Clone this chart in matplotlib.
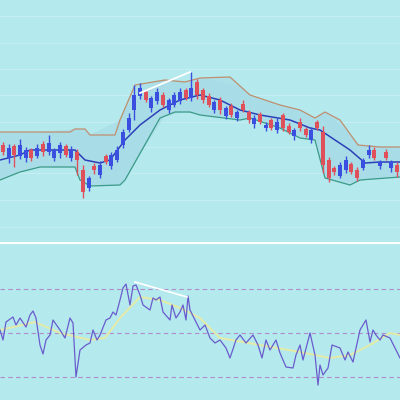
import matplotlib
matplotlib.use("Agg")
import matplotlib.pyplot as plt
import numpy as np

# price panel (values in chart units, smaller = higher on screen)
closes = [152,148,155,145,150,158,148,152,143,150,145,155,150,160,192,178,170,165,162,155,
          150,132,118,95,88,100,98,92,105,100,95,92,98,88,95,100,105,102,110,108,
          115,112,110,120,118,122,125,128,122,128,132,130,128,135,130,128,165,178,172,165,
          160,172,178,160,150,158,162,158,162,172]
opens = [145,158,146,156,158,150,156,144,152,158,153,146,158,152,170,188,166,175,156,166,
         160,145,130,110,96,92,108,101,95,110,105,101,90,98,82,90,96,110,100,116,
         106,118,104,112,124,114,128,120,130,115,126,136,122,129,140,122,132,160,168,176,
         170,164,170,168,155,150,166,152,168,165]
wick_up = [3,4,2,6,3,2,4,3,8,2,3,2,4,3,5,2,3,4,2,3,4,3,5,10,5,3,2,4,3,2,3,4,2,16,3,2,3,2,3,2,
           3,2,4,2,3,2,3,2,4,2,3,2,4,2,3,2,6,3,2,3,4,2,3,2,5,3,2,3,2,3]
wick_dn = [3,5,12,3,4,3,2,4,3,3,5,2,3,15,6,3,4,3,2,3,2,3,2,10,3,2,4,3,2,3,2,3,2,3,4,3,2,3,4,3,
           2,3,2,3,4,2,3,2,3,3,2,4,3,2,3,2,8,4,3,2,3,2,3,2,3,2,3,2,4,5]

band_x = [0,20,40,70,75,85,90,115,120,135,165,185,200,230,250,280,300,315,325,340,358,380,400]
upper  = [132,132,132,132,129,129,135,135,120,85,80,82,78,77,95,105,110,118,112,120,145,147,147]
lower_x = [0,20,40,75,80,90,120,125,160,175,190,200,240,250,280,300,315,325,350,360,400]
lower  = [180,172,167,167,180,186,185,180,118,112,112,115,120,118,128,138,140,178,185,180,177]
mid_x = [0,20,30,75,85,100,110,125,140,160,180,200,220,240,260,290,310,320,335,350,365,380,400]
mid   = [160,155,150,150,160,163,160,140,125,110,100,95,100,110,115,120,128,130,140,150,163,162,162]

rsi_x = [0,3,6,13,16,20,26,30,33,36,40,43,46,50,53,60,65,70,73,76,80,86,90,93,97,100,106,110,113,116,
         120,123,126,130,133,136,140,143,150,153,156,160,163,170,172,176,180,183,186,188,190,195,200,205,
         210,215,220,226,230,236,240,246,253,258,262,266,270,276,280,286,293,296,300,303,310,315,318,320,
         323,328,332,340,345,348,353,360,366,370,373,376,380,383,390,396,400]
rsi = [330,340,322,317,325,318,327,315,311,318,345,354,340,335,320,330,338,318,323,377,350,345,343,330,
       340,335,320,318,312,315,300,288,284,305,286,285,295,305,310,298,300,297,312,320,305,318,312,305,
       320,296,310,320,330,325,338,343,340,348,358,340,335,343,335,345,358,340,350,340,353,367,368,355,
       345,360,333,355,385,365,375,368,345,348,360,352,362,330,320,342,330,335,340,335,338,350,358]
ma_x = [0,35,60,90,105,120,140,160,180,200,220,260,300,330,350,370,390,400]
ma = [330,322,333,340,338,318,297,300,308,318,338,345,352,358,355,345,333,335]

bg = '#b4e9ee'
fig = plt.figure(figsize=(4, 4), dpi=100, facecolor=bg)
ax = fig.add_axes([0, 159/400, 1, 241/400], facecolor=bg)
ax2 = fig.add_axes([0, 0, 1, 158/400], facecolor=bg)

for a in (ax, ax2):
    for s in a.spines.values():
        s.set_visible(False)
    a.set_xticks([]); a.set_yticks([])
    a.set_xlim(0, 400)

ax.set_ylim(241, 0)
for gy in [16, 43, 69, 95, 122, 147, 173, 200, 227]:
    ax.axhline(gy, color='#c6eef2', lw=0.8, zorder=0)
ax.fill_between(band_x, upper, np.interp(band_x, lower_x, lower), color='#a6dbe6', alpha=0.6, lw=0, zorder=1)
ax.fill_between(lower_x, np.interp(lower_x, band_x, upper), lower, color='#a6dbe6', alpha=0.6, lw=0, zorder=1)
ax.plot(band_x, upper, color='#c08f6e', lw=0.9, zorder=2)
ax.plot(lower_x, lower, color='#3b9a88', lw=0.9, zorder=2)
ax.plot(mid_x, mid, color='#2d3fb8', lw=1.1, zorder=3)

step = 400 / len(closes)
for i, (o, c) in enumerate(zip(opens, closes)):
    x = (i + 0.5) * step
    col = '#3a4ee0' if c < o else '#e0505a'
    top = min(o, c); bot = max(o, c)
    ax.vlines(x, top - wick_up[i], bot + wick_dn[i], color=col, lw=1, zorder=4)
    ax.bar(x, max(bot - top, 1.5), bottom=top, width=step * 0.7, color=col, zorder=4)
ax.plot([140, 190], [93, 72], color='white', lw=1.3, zorder=5)

ax2.set_ylim(400, 242)
ax2.axhline(242.5, color='white', lw=1.5)
for gy in [289, 333, 377]:
    ax2.axhline(gy, color='#b08cc8', lw=0.8, ls=(0, (4, 3)))
ax2.plot(ma_x, ma, color='#e4eba6', lw=1.4)
ax2.plot(rsi_x, rsi, color='#6a5ccc', lw=0.9)
ax2.plot([135, 187], [282, 297], color='white', lw=1.2)

fig.savefig('out.png', dpi=100, facecolor=bg)
